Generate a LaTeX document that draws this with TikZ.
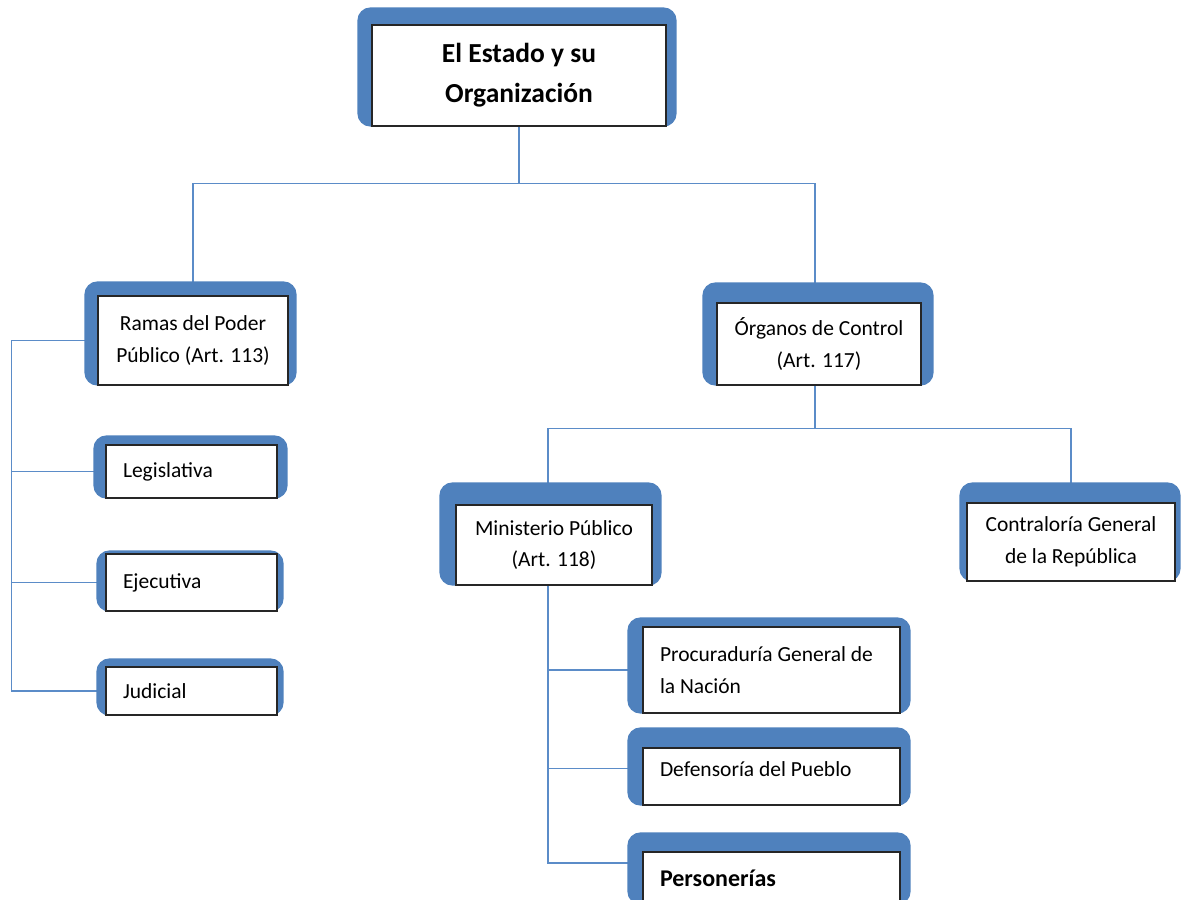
\documentclass[tikz,border=0pt]{standalone}
\usepackage{fontspec}
\setmainfont{Carlito}
\usetikzlibrary{backgrounds}

\definecolor{frameblue}{HTML}{4F81BD}
\definecolor{lineblue}{HTML}{5B8CC8}

\tikzset{
  unit/.style={draw=black!85, line width=1.2pt, fill=white, inner sep=0pt,
    align=center, font=\fontsize{21.5}{31.5}\selectfont},
  leftunit/.style={unit, align=flush left, inner xsep=17pt},
  headunit/.style={unit, font=\fontsize{27.5}{40}\selectfont\bfseries},
  link/.style={draw=lineblue, line width=1.3pt},
  frame/.style={fill=frameblue, rounded corners=13pt},
}

% blue rounded frame behind a box: name, left, right, top
\newcommand{\backframe}[4]{%
  \fill[frame] ([xshift=-#2pt,yshift=#4pt]#1.north west) rectangle ([xshift=#3pt]#1.south east);}

\begin{document}
\begin{tikzpicture}[x=1pt, y=-1pt]
  \useasboundingbox (0,0) rectangle (1187,900);

  \node[headunit, minimum width=294pt, minimum height=101pt] (estado) at (519,75.5) {El Estado y su\\Organización};

  \node[unit, minimum width=190pt, minimum height=89pt] (ramas) at (193,340.5) {Ramas del Poder\\Público (Art. 113)};
  \node[leftunit, text width=137pt, minimum height=53pt] (legis) at (191.5,471.5) {Legislativa};
  \node[leftunit, text width=137pt, minimum height=57pt] (ejec) at (191.5,582.5) {Ejecutiva};
  \node[leftunit, text width=137pt, minimum height=48pt] (judic) at (191.5,691) {Judicial};

  \node[unit, minimum width=204pt, minimum height=82pt] (organos) at (819,344) {Órganos de Control\\(Art. 117)};
  \node[unit, minimum width=196pt, minimum height=80pt] (minist) at (554,545) {Ministerio Público\\(Art. 118)};
  \node[unit, minimum width=208pt, minimum height=78pt] (contra) at (1071,542) {Contraloría General\\de la República};

  \node[leftunit, text width=223pt, minimum height=86pt] (procu) at (771.5,670) {Procuraduría General de\\la Nación};
  \node[leftunit, text width=223pt, minimum height=57pt, text depth=15pt] (defen) at (771.5,776.5) {Defensoría del Pueblo};
  \node[leftunit, text width=223pt, minimum height=52pt, font=\fontsize{24}{31.5}\selectfont\bfseries] (perso) at (771.5,878) {Personerías};

  \begin{pgfonlayer}{background}
    % connectors
    \draw[link] (estado.south) -- ++(0,57) coordinate (topbus);
    \draw[link] (ramas.north) |- (topbus) -| ([xshift=-4pt]organos.north);
    \draw[link] (ramas.west) -- ++(-86,0) coordinate (leftbus) |- (judic.west);
    \draw[link] (leftbus) |- (legis.west);
    \draw[link] (leftbus) |- (ejec.west);
    \draw[link] ([xshift=-4pt]organos.south) -- ++(0,43) coordinate (midbus);
    \draw[link] ([xshift=-6pt]minist.north) |- (midbus) -| (contra.north);
    \draw[link] ([xshift=-6pt]minist.south) |- (procu.west);
    \draw[link] ([xshift=-6pt]minist.south) |- ([yshift=8pt]defen.west);
    \draw[link] ([xshift=-6pt]minist.south) |- ([yshift=15pt]perso.west);

    % frames
    \backframe{estado}{14}{10}{17}
    \backframe{ramas}{13}{8}{14}
    \backframe{legis}{12}{10}{9}
    \backframe{ejec}{9}{6}{3}
    \backframe{judic}{9}{6}{8}
    \backframe{organos}{14}{12}{20}
    \backframe{minist}{16}{9}{22}
    \backframe{contra}{7}{5}{20}
    \backframe{procu}{15}{10}{9}
    \backframe{defen}{15}{10}{20}
    \backframe{perso}{15}{10}{19}
  \end{pgfonlayer}
\end{tikzpicture}
\end{document}
